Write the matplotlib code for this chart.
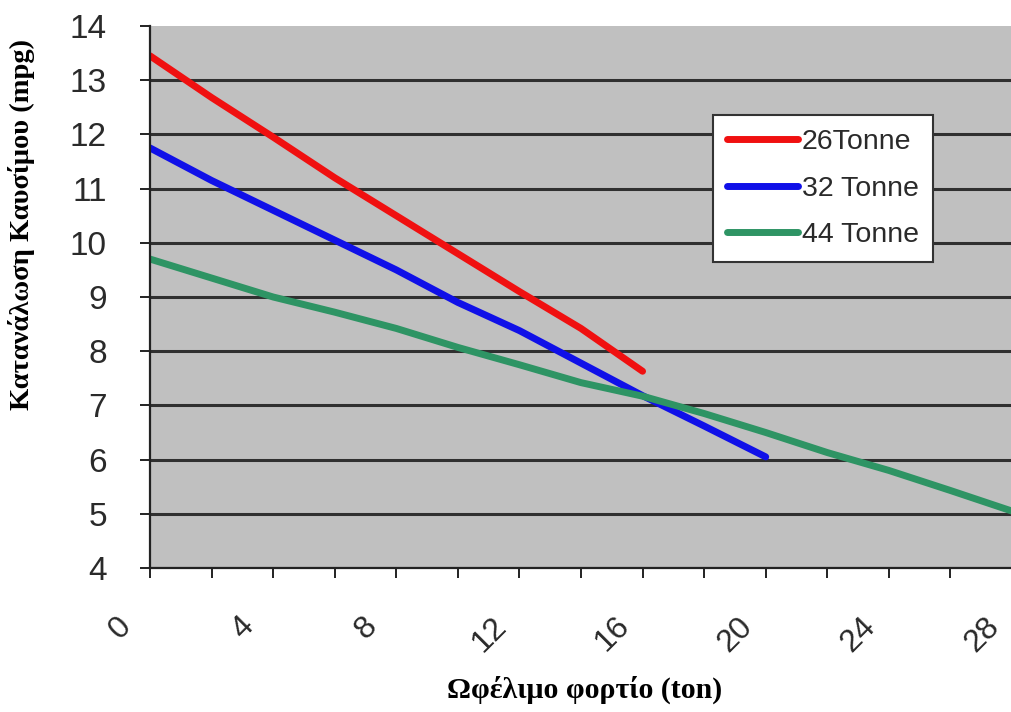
import matplotlib
matplotlib.use("Agg")
import matplotlib.pyplot as plt
from matplotlib.transforms import ScaledTranslation

# payload (ton) and fuel economy (mpg) per truck class
load_26 = [0, 2, 4, 6, 8, 10, 12, 14, 16]
mpg_26 = [13.45, 12.68, 11.95, 11.2, 10.5, 9.8, 9.1, 8.42, 7.63]

load_32 = [0, 2, 4, 6, 8, 10, 12, 14, 16, 18, 20]
mpg_32 = [11.75, 11.15, 10.6, 10.05, 9.5, 8.9, 8.38, 7.78, 7.18, 6.62, 6.05]

load_44 = [0, 2, 4, 6, 8, 10, 12, 14, 16, 18, 20, 22, 24, 26, 28]
mpg_44 = [9.7, 9.35, 9.0, 8.72, 8.42, 8.07, 7.75, 7.42, 7.17, 6.85, 6.5, 6.13, 5.8, 5.43, 5.05]

labels = ["26Tonne", "32 Tonne", "44 Tonne"]
colors = ["#f01010", "#1010e8", "#2e9464"]

sans = "Liberation Sans"
serif = "Liberation Serif"

fig = plt.figure(figsize=(10.12, 7.12), dpi=100)
ax = fig.add_axes([150 / 1012, 1 - 568 / 712, 862 / 1012, 542 / 712])
ax.set_facecolor("#c0c0c0")

ax.plot(load_26, mpg_26, color=colors[0], lw=5, solid_capstyle="round",
        solid_joinstyle="round", label=labels[0])
ax.plot(load_32, mpg_32, color=colors[1], lw=5, solid_capstyle="round",
        solid_joinstyle="round", label=labels[1])
ax.plot(load_44, mpg_44, color=colors[2], lw=5, solid_capstyle="round",
        solid_joinstyle="round", label=labels[2])

ax.set_xlim(0, 28)
ax.set_ylim(4, 14)
ax.set_yticks(range(4, 15))
ax.set_xticks(range(0, 29, 4))
ax.set_xticks(range(2, 29, 4), minor=True)

ax.grid(axis="y", color="#303030", lw=2.2)
ax.set_axisbelow(True)
ax.yaxis.get_gridlines()[-1].set_visible(False)

for s in ["top", "right"]:
    ax.spines[s].set_visible(False)
for s in ["left", "bottom"]:
    ax.spines[s].set_color("#222222")
    ax.spines[s].set_linewidth(1.6)

ax.tick_params(axis="y", length=7, width=1.4, color="#222222", pad=24,
               labelsize=24, labelcolor="#2a2a2a")
ax.tick_params(axis="x", which="both", length=7, width=1.4, color="#222222")
ax.tick_params(axis="x", pad=24, labelsize=23, labelcolor="#2a2a2a")
for t in ax.get_yticklabels():
    t.set_fontfamily(sans)

shift = ScaledTranslation(-0.30, 0, fig.dpi_scale_trans)
for t in ax.get_xticklabels():
    t.set_fontfamily(sans)
    t.set_rotation(45)
    t.set_transform(t.get_transform() + shift)

leg = ax.legend(loc="upper left", bbox_to_anchor=((713 - 150) / 862, 1 - (115 - 26) / 542),
                prop={"family": sans, "size": 20.5}, frameon=True, fancybox=False,
                handlelength=2.5, handletextpad=0.12, labelspacing=0.72,
                borderpad=0.5, borderaxespad=0)
leg.get_frame().set_edgecolor("#333333")
leg.get_frame().set_linewidth(1.5)
leg.get_frame().set_facecolor("white")
leg.get_frame().set_alpha(1)
for t in leg.get_texts():
    t.set_color("#2a2a2a")

fig.text(585 / 1012, 1 - 690 / 712, "Ωφέλιμο φορτίο (ton)", ha="center", va="center",
         family=serif, fontweight="bold", fontsize=21.5)
fig.text(22 / 1012, 1 - 225 / 712, "Κατανάλωση Καυσίμου (mpg)", ha="center", va="center",
         rotation=90, family=serif, fontweight="bold", fontsize=20.5)

fig.savefig("out.png", dpi=100)
